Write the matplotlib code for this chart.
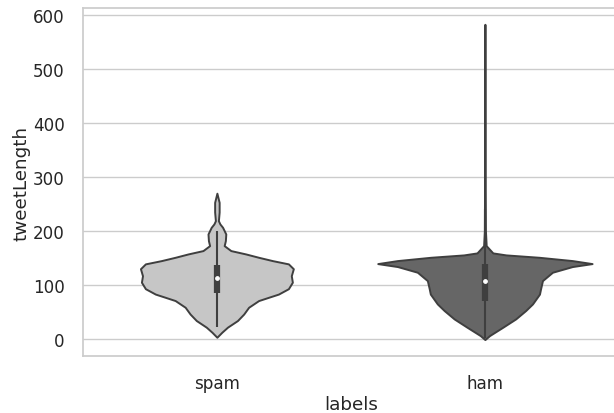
import numpy as np
import matplotlib
matplotlib.use('Agg')
import matplotlib.pyplot as plt
import seaborn as sns

# categories and violin outlines
labels = ['spam', 'ham']
fill_colors = ['#c6c6c6', '#666666']

# tweetLength levels and relative density (ham peak = 1)
spam_y = [3, 12.3, 21.7, 34, 46, 58.6, 71, 77, 83, 93, 105, 117, 130, 139, 145, 151.2, 157.4, 163.6,
          172.8, 182, 194.4, 206.8, 213, 219, 235, 253, 270]
spam_d = [0, 0.046, 0.099, 0.192, 0.25, 0.296, 0.389, 0.481, 0.574, 0.667, 0.704, 0.694, 0.713, 0.667,
          0.519, 0.389, 0.269, 0.130, 0.068, 0.079, 0.083, 0.053, 0.028, 0.014, 0.021, 0.021, 0]

ham_y = [-1.3, 6.2, 21.6, 37, 52.5, 64.8, 83, 92.6, 108, 123.5, 134, 139.5, 145.1, 151.2, 155.6, 159.3,
         172.8, 200, 300, 400, 500, 583]
ham_d = [0, 0.044, 0.167, 0.287, 0.380, 0.444, 0.509, 0.519, 0.537, 0.630, 0.815, 1.0, 0.815, 0.506,
         0.197, 0.074, 0.012, 0.005, 0.003, 0.003, 0.003, 0]

# box stats: whisker low, q1, median, q3, whisker high
spam_box = [22, 85, 112, 137, 200]
ham_box = [1, 71, 108, 139, 241]

sns.set_theme(style='whitegrid', context='notebook', font_scale=1.1)
plt.rcParams['xtick.major.pad'] = 7
plt.rcParams['ytick.major.pad'] = 7

fig = plt.figure(figsize=(6.14, 4.14), dpi=100)
ax = fig.add_axes([0.135, 0.138, 0.873, 0.84])

edge = '#3f3f3f'
half = 0.4
for i, (ys, ds, box) in enumerate([(spam_y, spam_d, spam_box), (ham_y, ham_d, ham_box)]):
    ys = np.array(ys, dtype=float)
    w = np.array(ds) * half
    ax.fill_betweenx(ys, i - w, i + w, facecolor=fill_colors[i], edgecolor=edge, linewidth=1.4, zorder=2)
    ax.plot([i, i], [box[0], box[4]], color=edge, linewidth=1.5, solid_capstyle='butt', zorder=3)
    ax.plot([i, i], [box[1], box[3]], color=edge, linewidth=4.5, solid_capstyle='butt', zorder=3)
    ax.scatter([i], [box[2]], s=6, color='white', zorder=4)

ax.set_xlim(-0.5, 1.5)
ax.set_ylim(-31.5, 613)
ax.set_xticks([0, 1])
ax.set_xticklabels(labels)
ax.xaxis.grid(False)
ax.set_xlabel('labels', labelpad=2)
ax.set_ylabel('tweetLength', labelpad=2)

fig.savefig('out.png', dpi=100)
